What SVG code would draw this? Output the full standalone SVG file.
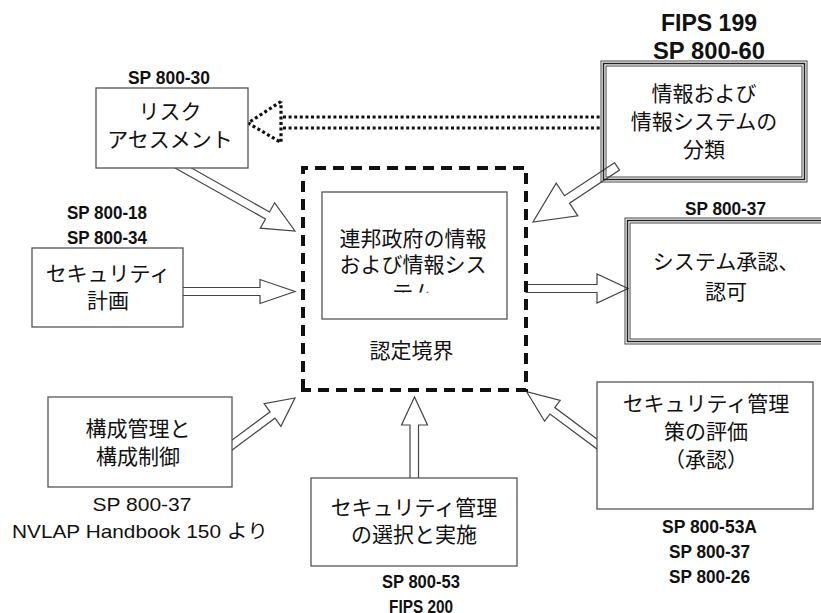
<svg xmlns="http://www.w3.org/2000/svg" width="821" height="613" viewBox="0 0 821 613">
<defs>
<style>
.box{fill:#fff;stroke:#555;stroke-width:1.3}
.arr{fill:#fff;stroke:#444;stroke-width:1.2;stroke-linejoin:miter}
.dot{fill:none;stroke:#111;stroke-width:3.2;stroke-dasharray:3 2.6}
.jp{font-family:"Noto Sans CJK JP","Noto Sans",sans-serif;font-size:21px;fill:#111;text-anchor:middle}
.ref{font-family:"Liberation Sans Narrow","Liberation Sans",Arial,sans-serif;font-weight:bold;font-size:19px;fill:#111;text-anchor:middle}
.refw{font-family:"Liberation Sans",Arial,sans-serif;font-weight:bold;font-size:23px;fill:#111;text-anchor:middle}
.reg{font-family:"Liberation Sans",Arial,"Noto Sans CJK JP",sans-serif;font-size:19px;fill:#111;text-anchor:middle}
.t1{fill:none;stroke:#444;stroke-width:1}
.t2{fill:none;stroke:#222;stroke-width:1.6}
</style>
<clipPath id="clipc"><rect x="322" y="192" width="185" height="100.5"/></clipPath>
</defs>
<rect width="821" height="613" fill="#fff"/>
<g id="connectors">
<polygon class="arr" points="169.8,165.1 265.5,219.0 260.3,228.2 295,231 274.6,202.8 269.5,212.0 173.8,158.1"/>
<polygon class="arr" points="170,287.5 260,287.5 260,279.5 295,291.5 260,303.5 260,295.5 170,295.5"/>
<polygon class="arr" points="526,284.5 597,284.5 597,274 628,288.5 597,303 597,292.5 526,292.5"/>
<polygon class="arr" points="614.5,162.7 564.5,195.75 556.2,183.2 533,222 577.8,215.8 569.5,203.2 619.5,170.1"/>
<polygon class="arr" points="218.7,459.9 274.9,418.2 280.9,426.3 295,398 264.1,403.7 270.1,411.8 213.9,453.5"/>
<polygon class="arr" points="410,490 410,425 401.5,425 414.5,397 427.5,425 418.5,425 418.5,490"/>
<polygon class="arr" points="609.3,448.2 554.8,407.6 560.2,400.4 526.7,391.7 544.6,421.2 550,414 604.5,454.6"/>
<g id="dotted-arrow">
<line class="dot" x1="283" y1="117" x2="601" y2="117"/>
<line class="dot" x1="283" y1="128" x2="601" y2="128"/>
<polyline class="dot" points="281,101.5 248,123 281,142.5 281,101.5"/>
</g>
</g>
<g id="risk">
<rect class="box" x="96" y="88" width="152" height="80"/>
<text class="ref" x="169" y="84" textLength="82" lengthAdjust="spacingAndGlyphs">SP 800-30</text>
<text class="jp" x="170" y="119">リスク</text>
<text class="jp" x="170" y="147">アセスメント</text>
</g>
<g id="classification">
<rect class="t1" x="601" y="61" width="206" height="121"/>
<rect class="t2" x="603.5" y="63.5" width="201" height="116"/>
<rect class="t1" x="606" y="66" width="196" height="111"/>
<text class="refw" x="709" y="31" textLength="96" lengthAdjust="spacingAndGlyphs">FIPS 199</text>
<text class="refw" x="709" y="59" textLength="112" lengthAdjust="spacingAndGlyphs">SP 800-60</text>
<text class="jp" x="704" y="101">情報および</text>
<text class="jp" x="704" y="129">情報システムの</text>
<text class="jp" x="704" y="157">分類</text>
</g>
<g id="plan">
<rect class="box" x="32" y="248" width="151" height="79"/>
<text class="ref" x="107" y="219" textLength="80" lengthAdjust="spacingAndGlyphs">SP 800-18</text>
<text class="ref" x="107" y="244" textLength="80" lengthAdjust="spacingAndGlyphs">SP 800-34</text>
<text class="jp" x="108" y="281">セキュリティ</text>
<text class="jp" x="108" y="308">計画</text>
</g>
<g id="boundary">
<path d="M303,390 L303,168 L526,168 L526,390 Z" fill="none" stroke="#111" stroke-width="4" stroke-dasharray="11 7"/>
<rect class="box" x="322" y="192" width="185" height="127"/>
<g clip-path="url(#clipc)">
<text class="jp" x="413" y="246">連邦政府の情報</text>
<text class="jp" x="413" y="272">および情報シス</text>
<text class="jp" x="413" y="300">テム</text>
</g>
<text class="jp" x="411.5" y="358">認定境界</text>
</g>
<g id="approval">
<rect class="t1" x="625" y="218" width="210" height="126"/>
<rect class="t2" x="627.5" y="220.5" width="205" height="121"/>
<rect class="t1" x="630" y="223" width="200" height="116"/>
<text class="ref" x="725.5" y="215" textLength="81" lengthAdjust="spacingAndGlyphs">SP 800-37</text>
<text class="jp" x="726" y="269">システム承認、</text>
<text class="jp" x="726" y="299">認可</text>
</g>
<g id="config">
<rect class="box" x="48" y="397" width="184" height="90"/>
<text class="jp" x="138" y="436">構成管理と</text>
<text class="jp" x="138" y="464">構成制御</text>
<text class="reg" x="142" y="511" textLength="99" lengthAdjust="spacingAndGlyphs">SP 800-37</text>
<text class="reg" x="140" y="538" textLength="256" lengthAdjust="spacingAndGlyphs">NVLAP Handbook 150 より</text>
</g>
<g id="selection">
<rect class="box" x="311" y="478" width="206" height="88"/>
<text class="jp" x="414" y="515">セキュリティ管理</text>
<text class="jp" x="414" y="542">の選択と実施</text>
<text class="ref" x="421" y="588" textLength="78" lengthAdjust="spacingAndGlyphs">SP 800-53</text>
<text class="ref" x="421" y="613" textLength="64" lengthAdjust="spacingAndGlyphs">FIPS 200</text>
</g>
<g id="assessment">
<rect class="box" x="597" y="382" width="216" height="127"/>
<text class="jp" x="706" y="411">セキュリティ管理</text>
<text class="jp" x="706" y="439">策の評価</text>
<text class="jp" x="706" y="467">（承認）</text>
<text class="ref" x="709.5" y="533" textLength="95" lengthAdjust="spacingAndGlyphs">SP 800-53A</text>
<text class="ref" x="709.5" y="558" textLength="81" lengthAdjust="spacingAndGlyphs">SP 800-37</text>
<text class="ref" x="709.5" y="583" textLength="81" lengthAdjust="spacingAndGlyphs">SP 800-26</text>
</g>
</svg>
